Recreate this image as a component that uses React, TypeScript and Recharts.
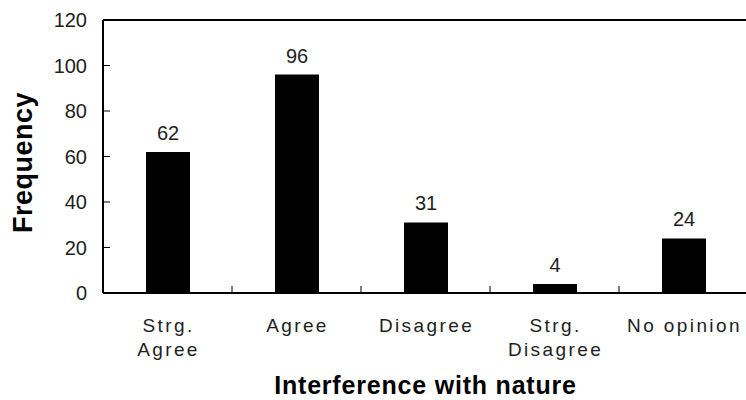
import React from 'react';
import { BarChart, Bar, XAxis, YAxis, LabelList, ReferenceLine } from 'recharts';

const categories = ['Strg.\nAgree', 'Agree', 'Disagree', 'Strg.\nDisagree', 'No opinion'];
const frequencies = [62, 96, 31, 4, 24];
const yTicks = [0, 20, 40, 60, 80, 100, 120];
const xTitle = 'Interference with nature';
const yTitle = 'Frequency';

const data = categories.map((c, i) => ({ name: c, value: frequencies[i] }));

const W = 760;
const H = 400;
const M = { top: 20, right: 12, bottom: 0, left: 0 };
const Y_AXIS_W = 103;
const X_AXIS_H = 107;
const PLOT_W = W - M.left - M.right - Y_AXIS_W;
const BAND = PLOT_W / categories.length;
const FONT = '"Liberation Sans", Arial, sans-serif';
const TXT = '#1e1e1e';

const XTick = (props: any) => {
  const { x, y, payload } = props;
  const half = payload && typeof payload.offset === 'number' && payload.offset > 0 ? payload.offset : BAND / 2;
  const lines = String(payload.value).split('\n');
  return (
    <g>
      <line x1={x + half} y1={y} x2={x + half} y2={y - 7} stroke="#000" strokeWidth={1} />
      <text x={x} y={y + 39} textAnchor="middle" fill={TXT} fontFamily={FONT} fontSize={19} letterSpacing={2.4}>
        {lines.map((l: string, i: number) => (
          <tspan key={i} x={x + 1} dy={i === 0 ? 0 : 24}>{l}</tspan>
        ))}
      </text>
    </g>
  );
};

const YTick = (props: any) => {
  const { x, y, payload } = props;
  return (
    <g>
      <line x1={x} y1={y} x2={x + 7} y2={y} stroke="#000" strokeWidth={1} />
      <text x={x - 16} y={y} dy="0.36em" textAnchor="end" fill={TXT} fontFamily={FONT} fontSize={20}>
        {payload.value}
      </text>
    </g>
  );
};

const YTitle = (props: any) => {
  const vb = props.viewBox || { x: 0, y: M.top, width: Y_AXIS_W, height: H - M.top - X_AXIS_H };
  const cx = vb.x + 32;
  const cy = vb.y + vb.height / 2 + 6;
  return (
    <text x={cx} y={cy} transform={`rotate(-90 ${cx} ${cy})`} textAnchor="middle" fill="#000" fontFamily={FONT} fontSize={27} fontWeight="bold" letterSpacing={0.5}>
      {yTitle}
    </text>
  );
};

const XTitle = (props: any) => {
  const vb = props.viewBox || { x: M.left + Y_AXIS_W, y: H - X_AXIS_H, width: PLOT_W, height: X_AXIS_H };
  const cx = vb.x + vb.width / 2;
  const cy = vb.y + 101;
  return (
    <text x={cx} y={cy} textAnchor="middle" fill="#000" fontFamily={FONT} fontSize={25} fontWeight="bold" letterSpacing={0.8}>
      {xTitle}
    </text>
  );
};

export default function App() {
  return (
    <div style={{ position: 'absolute', left: 0, top: 0, width: 746, height: 400, overflow: 'hidden', background: '#fff' }}>
      <BarChart width={W} height={H} data={data} margin={M}>
        <XAxis
          dataKey="name"
          height={X_AXIS_H}
          interval={0}
          tickSize={0}
          tickMargin={0}
          tickLine={false}
          axisLine={{ stroke: '#000', strokeWidth: 2 }}
          tick={<XTick />}
          label={{ content: <XTitle /> }}
        />
        <YAxis
          width={Y_AXIS_W}
          domain={[0, 120]}
          ticks={yTicks}
          interval={0}
          tickSize={0}
          tickMargin={0}
          tickLine={false}
          axisLine={{ stroke: '#000', strokeWidth: 2 }}
          tick={<YTick />}
          label={{ content: <YTitle /> }}
        />
        <ReferenceLine y={120} stroke="#000" strokeWidth={2} />
        <Bar dataKey="value" fill="#000" barSize={44} isAnimationActive={false}>
          <LabelList dataKey="value" position="top" offset={12} fill={TXT} fontFamily={FONT} fontSize={20} />
        </Bar>
      </BarChart>
    </div>
  );
}
